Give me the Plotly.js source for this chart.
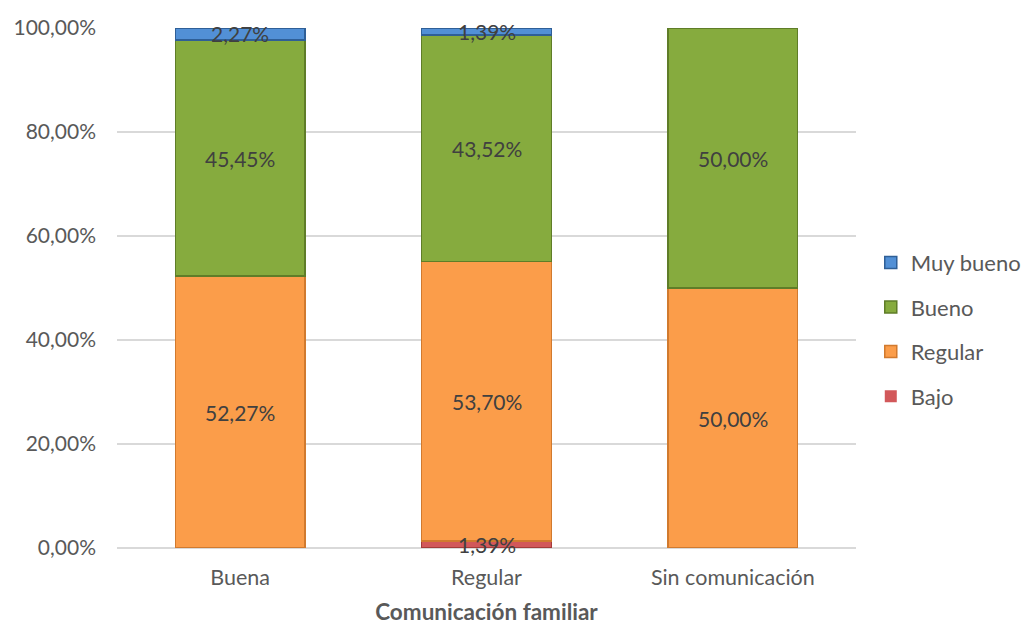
<!DOCTYPE html>
<html>
<head>
<meta charset="utf-8">
<script src="https://cdn.plot.ly/plotly-3.0.1.min.js"></script>
<style>html,body{margin:0;padding:0;background:#fff;}#chart{width:1030px;height:625px;}</style>
</head>
<body>
<div id="chart"></div>
<script>
const categories = ["Buena", "Regular", "Sin comunicación"];
const seriesNames = ["Bajo", "Regular", "Bueno", "Muy bueno"];
const bajo = [0, 1.39, 0];
const regular = [52.27, 53.70, 50.00];
const bueno = [45.45, 43.52, 50.00];
const muyBueno = [2.27, 1.39, 0];
const seriesValues = [bajo, regular, bueno, muyBueno];
const fillColors = ["#d2585a", "#fb9d4a", "#86ab3e", "#5290d6"];
const edgeColors = ["#a33c3a", "#d17a2e", "#5f7d28", "#2f5f97"];

const traces = seriesNames.map((name, i) => ({
  type: "bar",
  name: name,
  x: categories,
  y: seriesValues[i],
  legendgroup: name,
  legendrank: seriesNames.length - i,
  marker: {
    color: fillColors[i],
    line: { color: edgeColors[i], width: seriesValues[i].map(v => v > 0 ? 1.5 : 0) }
  },
  hoverinfo: "skip"
}));

const annotations = [];
categories.forEach((cat, c) => {
  let base = 0;
  seriesValues.forEach((vals) => {
    const v = vals[c];
    if (v > 0) {
      annotations.push({
        x: cat, y: base + v / 2, xref: "x", yref: "y",
        text: v.toFixed(2).replace(".", ",") + "%",
        showarrow: false,
        font: { family: "Lato, sans-serif", size: 21, color: "#404040" }
      });
    }
    base += v;
  });
});

const layout = {
  width: 1030, height: 625,
  margin: { l: 117, r: 174, t: 28, b: 77, autoexpand: false },
  paper_bgcolor: "#ffffff", plot_bgcolor: "#ffffff",
  barmode: "stack",
  bargap: 0.473,
  separators: ",.",
  font: { family: "Lato, sans-serif", color: "#595959", size: 21 },
  xaxis: {
    type: "category",
    tickfont: { size: 21.5, color: "#595959" },
    showgrid: false, showline: false, ticks: "",
    ticklabelstandoff: 14,
    title: { text: "<b>Comunicación familiar</b>", font: { size: 22.5, color: "#595959" }, standoff: 23 }
  },
  yaxis: {
    range: [0, 100], dtick: 20,
    tickformat: ".2f", ticksuffix: "%",
    tickfont: { size: 21, color: "#595959" },
    gridcolor: "#d9d9d9", gridwidth: 1.3,
    zeroline: true, zerolinecolor: "#d9d9d9", zerolinewidth: 1.3,
    showline: false, ticks: "",
    ticklabelstandoff: 20
  },
  legend: {
    traceorder: "grouped",
    tracegroupgap: 13,
    x: 1.02, xanchor: "left",
    y: 0.42, yanchor: "middle",
    font: { size: 22, color: "#595959" },
    itemwidth: 30
  },
  annotations: annotations
};

Plotly.newPlot("chart", traces, layout, { displayModeBar: false, staticPlot: true });
</script>
</body>
</html>
